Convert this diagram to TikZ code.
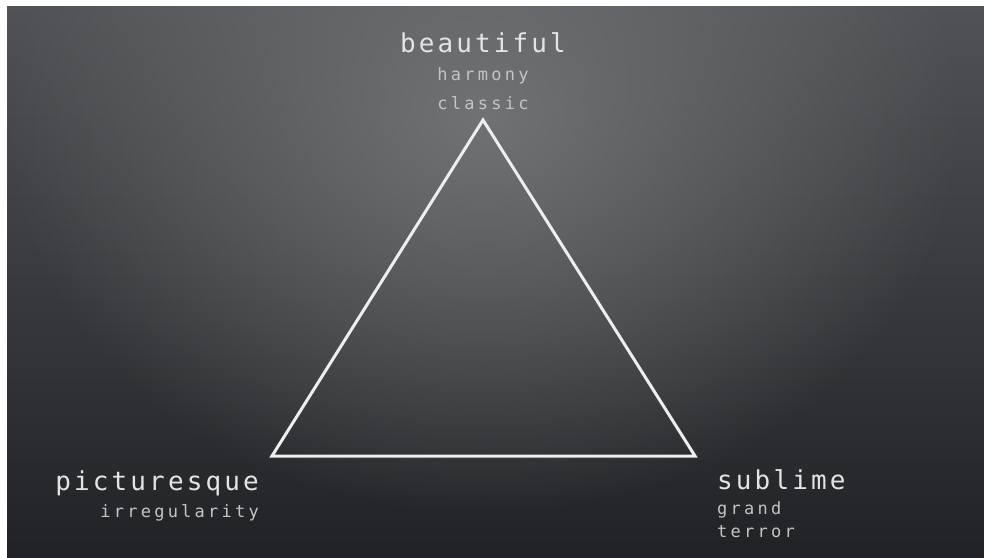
\documentclass[tikz,border=0pt]{standalone}
\usepackage{fontspec}
\usetikzlibrary{fadings}
\newfontfamily\labfont[LetterSpace=12]{DejaVu Sans Mono}
\newfontfamily\subfont[LetterSpace=19]{DejaVu Sans Mono}
\definecolor{bgtop}{RGB}{80,82,85}
\definecolor{bgmid}{RGB}{46,48,51}
\definecolor{bgbot}{RGB}{32,34,37}
\definecolor{glowc}{RGB}{112,114,116}
\definecolor{linec}{RGB}{238,238,238}
\definecolor{mainc}{RGB}{228,228,228}
\definecolor{subc}{RGB}{196,196,196}
\tikzfading[name=glowfade, inner color=transparent!0, outer color=transparent!100]
\tikzset{
  mainlab/.style={inner sep=0pt, text=mainc, font=\labfont\fontsize{26}{26}\selectfont},
  sublab/.style={inner sep=0pt, text=subc, font=\subfont\fontsize{17}{17}\selectfont},
  edge/.style={draw=linec, line width=3pt, line join=miter}
}
\begin{document}
\begin{tikzpicture}[x=1pt,y=-1pt]
\useasboundingbox (0,0) rectangle (984,557);
\fill[white] (0,0) rectangle (984,557);
\begin{scope}
\clip (7,6) rectangle (984,557);
\shade[top color=bgtop, middle color=bgmid, bottom color=bgbot] (7,6) rectangle (984,557);
\fill[glowc, path fading=glowfade] (483,115) ellipse [x radius=480, y radius=400];
\end{scope}
\coordinate (apex) at (483,120);
\coordinate (bl) at (272,456);
\coordinate (br) at (695,456);
\draw[edge] (apex) -- (br) -- (bl) -- cycle;
\node[mainlab, anchor=base] (beautiful) at (483,52) {beautiful};
\node[sublab, anchor=base] (harmony) at (483,80) {harmony};
\node[sublab, anchor=base] (classic) at (483,109) {classic};
\node[mainlab, anchor=base east] (picturesque) at (259,490) {picturesque};
\node[sublab, anchor=base east] (irregularity) at (259,517) {irregularity};
\node[mainlab, anchor=base west] (sublime) at (717,489) {sublime};
\node[sublab, anchor=base west] (grand) at (717,514) {grand};
\node[sublab, anchor=base west] (terror) at (717,537) {terror};
\end{tikzpicture}
\end{document}
